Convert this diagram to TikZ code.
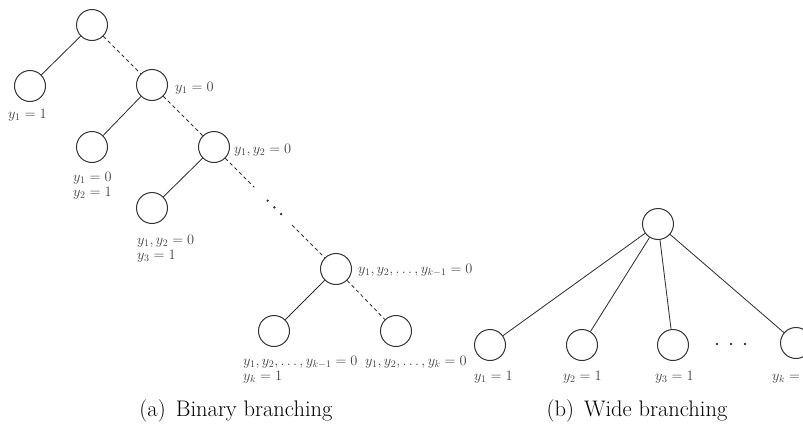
\documentclass[tikz,border=0pt]{standalone}
\usetikzlibrary{calc}
% two stacked label lines; the box's baseline is that of the first line
\newcommand{\twolines}[2]{\vtop{\hbox{#1}\hbox{#2}}}
\begin{document}
\begin{tikzpicture}[x=1pt,y=-1pt,
  vert/.style={circle,draw=black!80,line width=1pt,minimum size=31pt,inner sep=0pt},
  edge/.style={draw=black!80,line width=0.85pt},
  dedge/.style={edge,dash pattern=on 3.5pt off 3pt},
  dotmark/.style={circle,fill=black!80,inner sep=0pt,minimum size=2.6pt},
  lbl/.style={anchor=base west,inner sep=0pt,text=black!75,font=\fontsize{14.5}{15}\selectfont},
  captext/.style={anchor=base,inner sep=0pt,font=\fontsize{22.5}{27}\selectfont}]
\useasboundingbox (0,0) rectangle (803,426);

% ---- binary branching tree ----
\node[vert] (r)  at (92,25)   {};
\node[vert] (a1) at (30,86)   {};
\node[vert] (b1) at (152,85)  {};
\node[vert] (a2) at (92,147)  {};
\node[vert] (b2) at (214,147) {};
\node[vert] (a3) at (152,208) {};
\node[vert] (bk) at (336,269) {};
\node[vert] (ak) at (274,331) {};
\node[vert] (ck) at (396,331) {};

\draw[edge]  (r)  -- (a1);
\draw[dedge] (r)  -- (b1);
\draw[edge]  (b1) -- (a2);
\draw[dedge] (b1) -- (b2);
\draw[edge]  (b2) -- (a3);
\coordinate (g1) at ($(b2)!0.33!(bk)$);
\coordinate (g2) at ($(b2)!0.64!(bk)$);
\draw[dedge] (b2) -- (g1);
\draw[dedge] (g2) -- (bk);
\node[dotmark] (d1) at ($(b2)!0.44!(bk)$) {};
\node[dotmark] (d2) at ($(b2)!0.495!(bk)$) {};
\node[dotmark] (d3) at ($(b2)!0.55!(bk)$) {};
\draw[edge]  (bk) -- (ak);
\draw[dedge] (bk) -- (ck);

\node[lbl] (l1) at (8,118)   {$y_1=1$};
\node[lbl] (l2) at (175,91)  {$y_1=0$};
\node[lbl] (l3) at (73,181)  {\twolines{$y_1=0$}{$y_2=1$}};
\node[lbl] (l4) at (234,153) {$y_1,y_2=0$};
\node[lbl] (l5) at (137,244) {\twolines{$y_1,y_2=0$}{$y_3=1$}};
\node[lbl] (l6) at (358,273) {$y_1,y_2,\ldots,y_{k-1}=0$};
\node[lbl] (l7) at (243,365) {\twolines{$y_1,y_2,\ldots,y_{k-1}=0$}{$y_k=1$}};
\node[lbl] (l8) at (365,365) {$y_1,y_2,\ldots,y_k=0$};

% ---- wide branching tree ----
\node[vert] (w)  at (658,224) {};
\node[vert] (w1) at (490,345) {};
\node[vert] (w2) at (582,345) {};
\node[vert] (w3) at (673,345) {};
\node[vert] (wk) at (796,343) {};
\draw[edge] (w) -- (w1);
\draw[edge] (w) -- (w2);
\draw[edge] (w) -- (w3);
\draw[edge] (w) -- (wk);
\node[dotmark] (e1) at (717,344) {};
\node[dotmark] (e2) at (731,344) {};
\node[dotmark] (e3) at (745,344) {};

\node[lbl] (m1) at (474,380) {$y_1=1$};
\node[lbl] (m2) at (563,380) {$y_2=1$};
\node[lbl] (m3) at (655,380) {$y_3=1$};
\node[lbl] (mk) at (772,380) {$y_k=1$};

% ---- captions ----
\node[captext] (ca) at (236,416) {(a)\hspace{0.45em}Binary branching};
\node[captext] (cb) at (637,416) {(b)\hspace{0.45em}Wide branching};
\end{tikzpicture}
\end{document}
